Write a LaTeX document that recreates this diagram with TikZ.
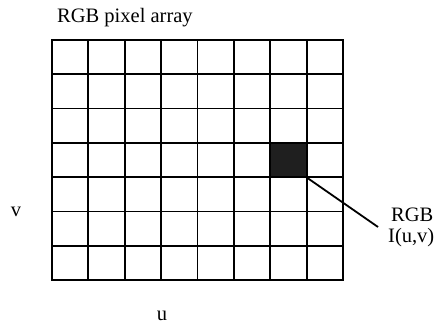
\documentclass[tikz,border=0pt]{standalone}
\usepackage{fontspec}
\setmainfont{Liberation Serif}
\begin{document}
\begin{tikzpicture}[x=1pt,y=1pt,
  lbl/.style={inner sep=0pt,font=\fontsize{20.5}{21}\selectfont},
  gridline/.style={line width=1.8pt,black},
  pixel/.style={fill=black!88,draw=black,line width=1.8pt,inner sep=0pt,minimum width=36.375pt,minimum height=34.286pt}]
\useasboundingbox (0,0) rectangle (434,324);
% grid
\draw[gridline,xstep=36.375,ystep=34.2857,shift={(52,44)}] (0,0) grid (291,240);
\draw[gridline] (52,44) rectangle (343,284);
% dark pixel
\node[pixel] (px) at (288.44,164) {};
% labels
\node[lbl,anchor=base west] (title) at (57,301.3) {RGB pixel array};
\node[lbl,anchor=base] (v) at (16,107) {v};
\node[lbl,anchor=base] (u) at (162,3.5) {u};
\node[lbl,anchor=base west] (rgb) at (391,102.3) {RGB};
\node[lbl,anchor=base west] (iuv) at (388,81.5) {I(u,v)};
\coordinate (lend) at (378,97);
\draw[line width=1.8pt] (px.south east) -- (lend);
\end{tikzpicture}
\end{document}
